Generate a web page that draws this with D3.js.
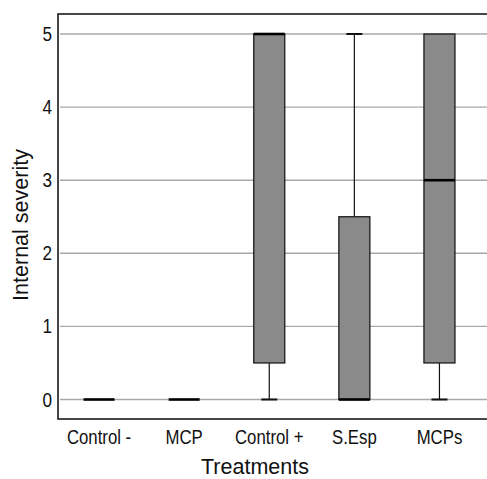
<!DOCTYPE html>
<html>
<head>
<meta charset="utf-8">
<script src="https://cdn.jsdelivr.net/npm/d3@7"></script>
<style>
  body { margin: 0; background: #fff; }
  text { font-family: "Liberation Sans", Arial, sans-serif; fill: #111; }
</style>
</head>
<body>
<div id="chart"></div>
<script>
// Box plot values per treatment
const treatments = ["Control -", "MCP", "Control +", "S.Esp", "MCPs"];
const mins    = [0, 0, 0,   0,   0];
const q1s     = [0, 0, 0.5, 0,   0.5];
const medians = [0, 0, 5,   0,   3];
const q3s     = [0, 0, 5,   2.5, 5];
const maxs    = [0, 0, 5,   5,   5];
const yTicks  = [0, 1, 2, 3, 4, 5];

const width = 487, height = 479;

const svg = d3.select("#chart")
  .append("svg")
  .attr("width", width)
  .attr("height", height);

// Plot frame
const frame = { left: 58, top: 14, right: 490, bottom: 419 };

const x = d3.scaleBand()
  .domain(treatments)
  .range([56.5, 482])
  .padding(0);

const y = d3.scaleLinear()
  .domain([0, 5])
  .range([399.5, 34]);

const boxW = 31, capW = 16;

// Gridlines
svg.append("g")
  .selectAll("line")
  .data(yTicks)
  .enter().append("line")
  .attr("x1", frame.left + 2)
  .attr("x2", width)
  .attr("y1", d => y(d))
  .attr("y2", d => y(d))
  .style("stroke", "#a8a8a8")
  .style("stroke-width", 1.4);

// Frame
svg.append("rect")
  .attr("x", frame.left)
  .attr("y", frame.top)
  .attr("width", frame.right - frame.left)
  .attr("height", frame.bottom - frame.top)
  .style("fill", "none")
  .style("stroke", "#1a1a1a")
  .style("stroke-width", 1.6);

// Y tick labels (narrow font look)
svg.append("g")
  .selectAll("text")
  .data(yTicks)
  .enter().append("text")
  .attr("transform", d => `translate(52,${y(d)}) scale(0.88,1)`)
  .attr("dy", "0.36em")
  .attr("text-anchor", "end")
  .style("font-size", "19.5px")
  .text(d => d);

// X tick labels
svg.append("g")
  .selectAll("text")
  .data(treatments)
  .enter().append("text")
  .attr("transform", d => `translate(${x(d) + x.bandwidth() / 2},444) scale(0.86,1)`)
  .attr("text-anchor", "middle")
  .style("font-size", "19.5px")
  .text(d => d);

// Axis titles
svg.append("text")
  .attr("x", 255)
  .attr("y", 474)
  .attr("text-anchor", "middle")
  .style("font-size", "21.5px")
  .text("Treatments");

svg.append("text")
  .attr("transform", "translate(28,225) rotate(-90)")
  .attr("text-anchor", "middle")
  .style("font-size", "21.5px")
  .text("Internal severity");

// Boxes
const rows = treatments.map((t, i) => ({
  t, min: mins[i], q1: q1s[i], med: medians[i], q3: q3s[i], max: maxs[i]
}));

const g = svg.append("g")
  .selectAll("g")
  .data(rows)
  .enter().append("g")
  .attr("transform", d => `translate(${x(d.t) + x.bandwidth() / 2},0)`);

// whiskers
g.filter(d => d.max > d.q3).append("line")
  .attr("y1", d => y(d.q3)).attr("y2", d => y(d.max))
  .style("stroke", "#111").style("stroke-width", 1.2);
g.filter(d => d.min < d.q1).append("line")
  .attr("y1", d => y(d.q1)).attr("y2", d => y(d.min))
  .style("stroke", "#111").style("stroke-width", 1.2);
g.filter(d => d.max > d.q3).append("line")
  .attr("x1", -capW / 2).attr("x2", capW / 2)
  .attr("y1", d => y(d.max)).attr("y2", d => y(d.max))
  .style("stroke", "#111").style("stroke-width", 2);
g.filter(d => d.min < d.q1).append("line")
  .attr("x1", -capW / 2).attr("x2", capW / 2)
  .attr("y1", d => y(d.min)).attr("y2", d => y(d.min))
  .style("stroke", "#111").style("stroke-width", 2);

// box body
g.filter(d => d.q3 > d.q1).append("rect")
  .attr("x", -boxW / 2)
  .attr("width", boxW)
  .attr("y", d => y(d.q3))
  .attr("height", d => y(d.q1) - y(d.q3))
  .style("fill", "#8a8a8a")
  .style("stroke", "#1a1a1a")
  .style("stroke-width", 1.3);

// median
g.append("line")
  .attr("x1", -boxW / 2).attr("x2", boxW / 2)
  .attr("y1", d => y(d.med)).attr("y2", d => y(d.med))
  .style("stroke", "#000")
  .style("stroke-width", 2.6);
</script>
</body>
</html>
